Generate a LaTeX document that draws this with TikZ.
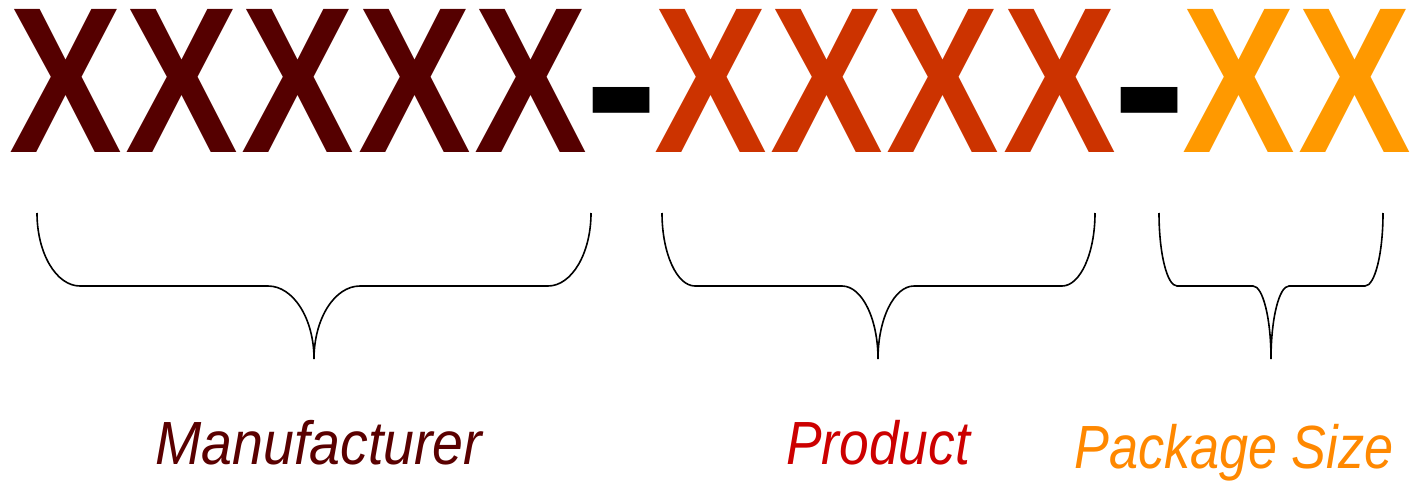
\documentclass[tikz,border=0pt]{standalone}
\usepackage{fontspec}
\setmainfont{Liberation Sans}
\usepackage{graphicx}
\definecolor{manuX}{HTML}{550000}
\definecolor{prodX}{HTML}{CC3300}
\definecolor{packX}{HTML}{FF9900}
\definecolor{manuLabel}{HTML}{5A0000}
\definecolor{prodLabel}{HTML}{CC0000}
\definecolor{packLabel}{HTML}{FF8800}
\newcommand{\bigX}{\resizebox{112.7pt}{143pt}{\bfseries X}}
\newcommand{\bigdash}{\resizebox{74.3pt}{69pt}{\bfseries -}}
\tikzset{
    letter/.style={anchor=base west, inner sep=0, outer sep=0},
    brace/.style={line width=1.6pt, black},
    partlabel/.style={anchor=base west, inner sep=0, font=\fontsize{61}{70}\selectfont\itshape},
}
\begin{document}
\begin{tikzpicture}[x=1pt, y=-1pt]
    \useasboundingbox (0,0) rectangle (1410,484);

    \foreach \i/\x in {1/12,2/128,3/244,4/361,5/477}
        \node[letter, text=manuX] (manu\i) at (\x-2.4,153) {\bigX};
    \node[letter] (dash1) at (584,156) {\bigdash};
    \foreach \i/\x in {1/657,2/773,3/889,4/1006}
        \node[letter, text=prodX] (prod\i) at (\x-2.4,153) {\bigX};
    \node[letter] (dash2) at (1112,156) {\bigdash};
    \foreach \i/\x in {1/1185,2/1301}
        \node[letter, text=packX] (pack\i) at (\x-2.4,153) {\bigX};

    \foreach \l/\r/\t/\w/\m in {37/591/314/43/46, 662/1095/878/33/36, 1159/1383/1271/18/18}
        \draw[brace] (\l,213) .. controls (\l,253.3) and ({\l+0.448*\w},286) .. ({\l+\w},286)
            -- ({\t-\m},286) .. controls ({\t-0.448*\m},286) and (\t,318.7) .. (\t,359)
            .. controls (\t,318.7) and ({\t+0.448*\m},286) .. ({\t+\m},286)
            -- ({\r-\w},286) .. controls ({\r-0.448*\w},286) and (\r,253.3) .. (\r,213);

    \node[partlabel, text=manuLabel, xscale=0.91] (manuText) at (155,464) {Manufacturer};
    \node[partlabel, text=prodLabel, xscale=0.875] (prodText) at (786,464) {Product};
    \node[partlabel, text=packLabel, xscale=0.856] (packText) at (1074,468) {Package Size};
\end{tikzpicture}
\end{document}
